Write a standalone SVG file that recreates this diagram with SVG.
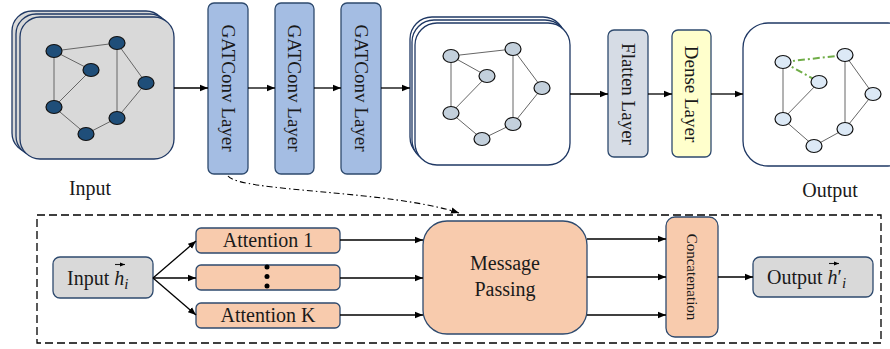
<svg xmlns="http://www.w3.org/2000/svg" width="890" height="349" viewBox="0 0 890 349">
<defs>
<marker id="ah" viewBox="0 0 10 10" refX="10" refY="5" markerWidth="8" markerHeight="8" markerUnits="userSpaceOnUse" orient="auto"><path d="M0,1 L10,5 L0,9 Z" fill="#000"/></marker>
<marker id="ahs" viewBox="0 0 10 10" refX="10" refY="5" markerWidth="5" markerHeight="5" markerUnits="userSpaceOnUse" orient="auto"><path d="M0,1 L10,5 L0,9 Z" fill="#000"/></marker>
</defs>
<style>
text{font-family:"Liberation Serif","DejaVu Serif",serif;fill:#1a1a1a}
.lbl{font-size:20px}
.vt{font-size:19px}
.card{stroke:#1f3864;stroke-width:1.3}
.edge{stroke:#666;stroke-width:1}
.nd{stroke:#111;stroke-width:1.2}
.nd1{fill:#1f4e79}
.nd2{fill:#c3d0dc}
.nd3{fill:#dce9f6}
.box{stroke:#2e4a6e;stroke-width:1.3}
.con{stroke:#000;stroke-width:1.3;fill:none;marker-end:url(#ah)}
.orange{fill:#f8cbad}
</style>

<g id="input-graph">
<rect class="card" x="12" y="11" width="154" height="142" rx="20" fill="#d9d9d9"/>
<rect class="card" x="16" y="14" width="154" height="142" rx="20" fill="#d9d9d9"/>
<rect class="card" x="20" y="17" width="154" height="142" rx="20" fill="#d9d9d9"/>
<g class="edge">
<line x1="54" y1="51" x2="117" y2="43"/><line x1="54" y1="51" x2="91" y2="70"/><line x1="54" y1="51" x2="54" y2="107"/>
<line x1="91" y1="70" x2="54" y2="107"/><line x1="117" y1="43" x2="117" y2="118"/><line x1="117" y1="43" x2="146" y2="83"/>
<line x1="146" y1="83" x2="117" y2="118"/><line x1="54" y1="107" x2="86" y2="134"/><line x1="86" y1="134" x2="117" y2="118"/>
</g>
<g class="nd nd1">
<ellipse cx="54" cy="51" rx="8" ry="6.5"/><ellipse cx="117" cy="43" rx="8" ry="6.5"/><ellipse cx="91" cy="70" rx="8" ry="6.5"/>
<ellipse cx="146" cy="83" rx="8" ry="6.5"/><ellipse cx="54" cy="107" rx="8" ry="6.5"/><ellipse cx="117" cy="118" rx="8" ry="6.5"/>
<ellipse cx="86" cy="134" rx="8" ry="6.5"/>
</g>
<text class="lbl" x="90" y="195" text-anchor="middle">Input</text>
</g>

<g id="gat1"><rect class="box" x="208" y="3" width="40" height="171" rx="6" fill="#a4bde3"/>
<text class="vt" transform="translate(228,88) rotate(90)" text-anchor="middle" dy="6.5">GATConv Layer</text></g>
<g id="gat2"><rect class="box" x="275" y="3" width="39" height="171" rx="6" fill="#a4bde3"/>
<text class="vt" transform="translate(294.5,88) rotate(90)" text-anchor="middle" dy="6.5">GATConv Layer</text></g>
<g id="gat3"><rect class="box" x="341" y="3" width="40" height="171" rx="6" fill="#a4bde3"/>
<text class="vt" transform="translate(361,88) rotate(90)" text-anchor="middle" dy="6.5">GATConv Layer</text></g>

<g id="hidden-graph">
<rect class="card" x="410" y="17" width="155" height="142" rx="22" fill="#fff"/>
<rect class="card" x="412" y="20" width="155" height="142" rx="22" fill="#fff"/>
<rect class="card" x="415" y="23" width="155" height="142" rx="22" fill="#fff"/>
<g class="edge">
<line x1="451" y1="56" x2="513" y2="49"/><line x1="451" y1="56" x2="487" y2="76"/><line x1="451" y1="56" x2="451" y2="113"/>
<line x1="487" y1="76" x2="451" y2="113"/><line x1="513" y1="49" x2="513" y2="124"/><line x1="513" y1="49" x2="542" y2="88"/>
<line x1="542" y1="88" x2="513" y2="124"/><line x1="451" y1="113" x2="482" y2="139"/><line x1="482" y1="139" x2="513" y2="124"/>
</g>
<g class="nd nd2">
<ellipse cx="451" cy="56" rx="8" ry="6.5"/><ellipse cx="513" cy="49" rx="8" ry="6.5"/><ellipse cx="487" cy="76" rx="8" ry="6.5"/>
<ellipse cx="542" cy="88" rx="8" ry="6.5"/><ellipse cx="451" cy="113" rx="8" ry="6.5"/><ellipse cx="513" cy="124" rx="8" ry="6.5"/>
<ellipse cx="482" cy="139" rx="8" ry="6.5"/>
</g>
</g>

<g id="flatten"><rect class="box" x="608" y="30" width="40" height="127" rx="6" fill="#d6dce5"/>
<text class="vt" transform="translate(628,94) rotate(90)" text-anchor="middle" dy="6.5">Flatten Layer</text></g>
<g id="dense"><rect class="box" x="672" y="30" width="39" height="127" rx="6" fill="#ffffcc"/>
<text class="vt" transform="translate(691.5,94) rotate(90)" text-anchor="middle" dy="6.5">Dense Layer</text></g>

<g id="output-graph">
<rect class="card" x="743" y="23" width="170" height="143" rx="25" fill="#fff"/>
<g class="edge">
<line x1="783" y1="62" x2="783" y2="119"/>
<line x1="819" y1="82" x2="783" y2="119"/><line x1="845" y1="55" x2="845" y2="129"/><line x1="845" y1="55" x2="873" y2="94"/>
<line x1="873" y1="94" x2="845" y2="129"/><line x1="783" y1="119" x2="814" y2="146"/><line x1="814" y1="146" x2="845" y2="129"/>
</g>
<g stroke="#70ad47" stroke-width="2" stroke-dasharray="7 3 2 3">
<line x1="783" y1="62" x2="845" y2="55"/><line x1="783" y1="62" x2="819" y2="82"/>
</g>
<g class="nd nd3">
<ellipse cx="783" cy="62" rx="8" ry="6.5"/><ellipse cx="845" cy="55" rx="8" ry="6.5"/><ellipse cx="819" cy="82" rx="8" ry="6.5"/>
<ellipse cx="873" cy="94" rx="8" ry="6.5"/><ellipse cx="783" cy="119" rx="8" ry="6.5"/><ellipse cx="845" cy="129" rx="8" ry="6.5"/>
<ellipse cx="814" cy="146" rx="8" ry="6.5"/>
</g>
<text class="lbl" x="830" y="197" text-anchor="middle">Output</text>
</g>

<g id="gat-detail-frame">
<rect x="37" y="215" width="844" height="128" fill="none" stroke="#000" stroke-width="1.3" stroke-dasharray="8 4"/>
</g>

<g id="input-h">
<rect class="box" x="53" y="257" width="100" height="41" rx="7" fill="#d9d9d9"/>
<text class="lbl" x="67" y="285">Input <tspan font-style="italic">h</tspan><tspan font-style="italic" font-size="15" dy="4">i</tspan></text>
<line x1="115" y1="264.5" x2="125" y2="264.5" stroke="#1a1a1a" stroke-width="1.1" marker-end="url(#ahs)"/>
</g>

<g id="attention-1"><rect class="box orange" x="196" y="228" width="144" height="25" rx="5"/>
<text class="lbl" x="268" y="247" text-anchor="middle">Attention 1</text></g>
<g id="attention-dots"><rect class="box orange" x="196" y="265" width="144" height="25" rx="5"/>
<circle cx="267" cy="267" r="2.5" fill="#000"/><circle cx="267" cy="276.5" r="2.5" fill="#000"/><circle cx="267" cy="286" r="2.5" fill="#000"/></g>
<g id="attention-k"><rect class="box orange" x="196" y="303" width="144" height="25" rx="5"/>
<text class="lbl" x="268" y="322" text-anchor="middle">Attention K</text></g>

<g id="message-passing"><rect class="box orange" x="423" y="221" width="164" height="113" rx="24"/>
<text class="lbl" x="505" y="270" text-anchor="middle">Message</text>
<text class="lbl" x="505" y="296" text-anchor="middle">Passing</text></g>

<g id="concatenation"><rect class="box orange" x="666" y="217" width="52" height="120" rx="9"/>
<text font-size="15" transform="translate(692,277) rotate(90)" text-anchor="middle" dy="5">Concatenation</text></g>

<g id="output-h">
<rect class="box" x="753" y="257" width="120" height="40" rx="7" fill="#d9d9d9"/>
<text class="lbl" x="767" y="284">Output <tspan font-style="italic">h</tspan><tspan>′</tspan><tspan font-style="italic" font-size="15" dy="4">i</tspan></text>
<line x1="829" y1="263.5" x2="839" y2="263.5" stroke="#1a1a1a" stroke-width="1.1" marker-end="url(#ahs)"/>
</g>

<g id="connectors">
<line class="con" x1="174" y1="88" x2="208" y2="88"/>
<line class="con" x1="248" y1="88" x2="275" y2="88"/>
<line class="con" x1="314" y1="88" x2="341" y2="88"/>
<line class="con" x1="381" y1="88" x2="410" y2="88"/>
<line class="con" x1="570" y1="94" x2="608" y2="94"/>
<line class="con" x1="648" y1="94" x2="672" y2="94"/>
<line class="con" x1="711" y1="94" x2="743" y2="94"/>
<path d="M228,176 C240,192 390,190 459,213" fill="none" stroke="#000" stroke-width="1.1" stroke-dasharray="6 3 1.5 3" marker-end="url(#ah)"/>
<line class="con" x1="153" y1="278" x2="196" y2="241"/>
<line class="con" x1="153" y1="278" x2="196" y2="278"/>
<line class="con" x1="153" y1="278" x2="196" y2="315"/>
<line class="con" x1="340" y1="240" x2="423" y2="240"/>
<line class="con" x1="340" y1="278" x2="423" y2="278"/>
<line class="con" x1="340" y1="315" x2="423" y2="315"/>
<line class="con" x1="587" y1="239" x2="666" y2="239"/>
<line class="con" x1="587" y1="277" x2="666" y2="277"/>
<line class="con" x1="587" y1="315" x2="666" y2="315"/>
<line class="con" x1="718" y1="277" x2="753" y2="277"/>
</g>
</svg>
